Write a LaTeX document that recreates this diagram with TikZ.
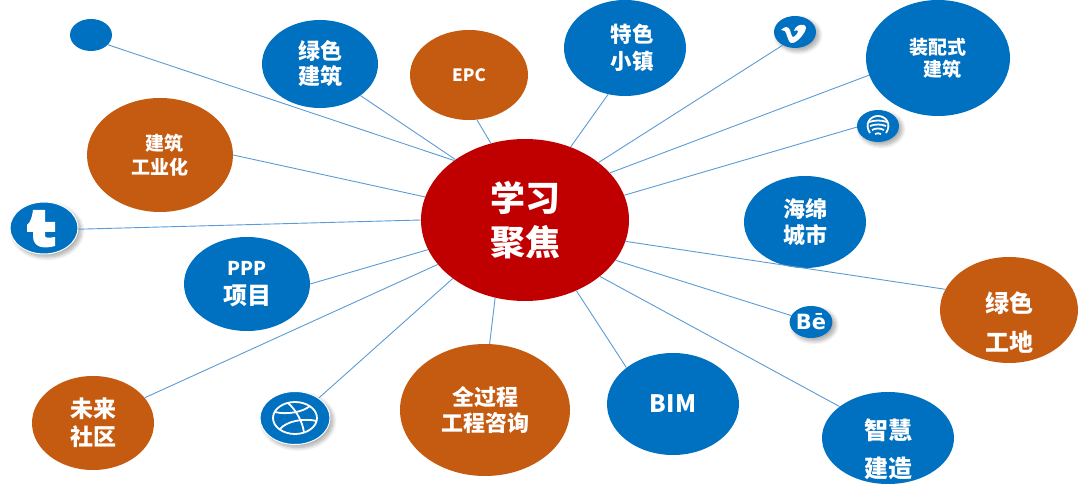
\documentclass[tikz,border=0pt]{standalone}
\usepackage{fontspec}
\setmainfont{Noto Sans CJK SC}
\newfontfamily\iconfont{DejaVu Sans}
\usetikzlibrary{shapes.geometric,shadows.blur}
\definecolor{hubred}{HTML}{C00000}
\definecolor{topicblue}{HTML}{0070C0}
\definecolor{topicorange}{HTML}{C55A11}
\definecolor{spokeblue}{HTML}{5B9BD5}
\begin{document}
\begin{tikzpicture}[x=1pt,y=-1pt,
  blob/.style={ellipse,inner sep=0pt,text=white,font=\bfseries,align=center},
  blueblob/.style={blob,fill=topicblue},
  orangeblob/.style={blob,fill=topicorange},
  icon/.style={blueblob,blur shadow={shadow blur steps=10,shadow blur radius=4pt,shadow xshift=3pt,shadow yshift=-3pt,shadow opacity=35}},
  ringicon/.style={icon,draw=white,line width=1pt},
  spoke/.style={draw=spokeblue,line width=0.9pt},
  glyph/.style={white,line width=1.8pt},
  tag/.style={text=white,font=\bfseries,align=center,inner sep=0pt}]

  \useasboundingbox (0,0) rectangle (1080,486);

  % Hub

  \node [blob,fill=hubred,minimum width=208pt,minimum height=162pt,font=\bfseries\fontsize{35}{44}\selectfont] (HUB) at (525,220) {学习\\聚焦};

  % Blue topics

  \node [blueblob,minimum width=116pt,minimum height=88pt,font=\bfseries\fontsize{22}{25}\selectfont] (GB) at (320,64) {绿色\\建筑};
  \node [blueblob,minimum width=122pt,minimum height=96pt] (TOWN) at (625,48) {};
  \node [tag,font=\bfseries\fontsize{21.5}{27}\selectfont] (TOWNtext) at (632,48) {特色\\小镇};
  \node [blueblob,minimum width=144pt,minimum height=116pt,font=\bfseries\fontsize{19}{22}\selectfont] (PREFAB) at (938,58) {装配式\\\ \ 建筑};
  \node [blueblob,minimum width=122pt,minimum height=92pt,font=\bfseries\fontsize{22}{26}\selectfont] (SPONGE) at (805,222) {海绵\\城市};
  \node [blueblob,minimum width=126pt,minimum height=94pt,font=\bfseries\fontsize{24}{29}\selectfont] (PPP) at (247,284) {{\fontsize{19}{29}\selectfont PPP}\\项目};
  \node [blueblob,minimum width=132pt,minimum height=102pt,font=\bfseries\fontsize{24}{28}\selectfont] (BIM) at (673,404) {BIM};
  \node [blueblob,minimum width=132pt,minimum height=92pt] (SMART) at (888,438) {};
  \node [tag,font=\bfseries\fontsize{24}{38}\selectfont] (SMARTtext) at (888,449) {智慧\\建造};

  % Orange topics

  \node [orangeblob,minimum width=118pt,minimum height=90pt,font=\bfseries\fontsize{17}{20}\selectfont] (EPC) at (469,75) {EPC};
  \node [orangeblob,minimum width=146pt,minimum height=114pt,font=\bfseries\fontsize{19}{24}\selectfont] (IND) at (160,155) {\ \ 建筑\\工业化};
  \node [orangeblob,minimum width=138pt,minimum height=106pt] (SITE) at (1009,310) {};
  \node [tag,font=\bfseries\fontsize{24}{39}\selectfont] (SITEtext) at (1009,323) {绿色\\工地};
  \node [orangeblob,minimum width=122pt,minimum height=94pt,font=\bfseries\fontsize{23}{28}\selectfont] (FUTURE) at (93,423) {未来\\社区};
  \node [orangeblob,minimum width=170pt,minimum height=132pt,font=\bfseries\fontsize{22}{26}\selectfont] (WHOLE) at (485,410) {全过程\\工程咨询};

  % Small icons

  \node [blueblob,minimum width=42pt,minimum height=32pt] (DOT) at (91,35) {};
  \node [icon,minimum width=42pt,minimum height=32pt] (VIMEO) at (795,32) {};
  \node [icon,minimum width=42pt,minimum height=32pt] (SPOT) at (878,126) {};
  \node [icon,minimum width=42pt,minimum height=32pt,font=\iconfont\bfseries\fontsize{21}{21}\selectfont] (BE) at (811,322) {Bē};
  \node [ringicon,minimum width=68pt,minimum height=52pt] (TUMBLR) at (44,228) {};
  \node [ringicon,minimum width=70pt,minimum height=53pt] (DRIB) at (295,418) {};

  % Logos drawn by hand

  \begin{scope}[shift={(VIMEO)}]
    \fill [white] (-14,-2) .. controls (-10,-6) and (-7,-6) .. (-5,-2) .. controls (-4,2) and (-3,5) .. (-2,5) .. controls (0,5) and (3,1) .. (3,-1) .. controls (3,-2) and (1,-2) .. (-1,-1) .. controls (0,-6) and (5,-8) .. (9,-7) .. controls (12,-6) and (11,-2) .. (9,1) .. controls (6,6) and (0,12) .. (-4,11) .. controls (-7,10) and (-8,2) .. (-10,-1) -- cycle;
  \end{scope}

  \begin{scope}[shift={(SPOT)}]
    \draw [glyph] (-8,7) .. controls (-14,-2) and (-8,-10) .. (0,-10) .. controls (8,-10) and (14,-2) .. (8,7);
    \draw [glyph] (-9,-4) .. controls (-3,-6) and (3,-6) .. (9,-4);
    \draw [glyph] (-8,0) .. controls (-3,-2) and (3,-2) .. (8,0);
    \draw [glyph] (-6,4) .. controls (-2,2) and (2,2) .. (6,4);
    \draw [glyph] (-3,8) .. controls (-1,7) and (1,7) .. (3,8);
  \end{scope}

  \begin{scope}[shift={(TUMBLR)}]
    \fill [white] (-11,-18) -- (1,-18) -- (1,-6) -- (11,-6) -- (11,4) -- (1,4) -- (1,8) .. controls (1,10) and (5,10) .. (11,9) -- (11,18) .. controls (0,21) and (-11,20) .. (-11,8) -- (-11,4) -- (-17,4) -- (-17,-3) .. controls (-14,-5) and (-12,-10) .. (-11,-18) -- cycle;
  \end{scope}

  \begin{scope}[shift={(DRIB)}]
    \draw [glyph] (0,0) ellipse (22pt and 16pt);
    \draw [glyph] (-20,-6) .. controls (-8,-3) and (8,-6) .. (15,-12);
    \draw [glyph] (-7,-15) .. controls (2,-7) and (8,5) .. (9,15);
    \draw [glyph] (-15,11) .. controls (-8,3) and (8,0) .. (22,3);
  \end{scope}

  % Spokes from the hub

  \path [spoke] (HUB.140) -- (DOT.-30);
  \path [spoke] (HUB.139) -- (GB.-38);
  \path [spoke] (HUB.114) -- (EPC.-80);
  \path [spoke] (HUB.58) -- (TOWN.250);
  \path [spoke] (HUB.38) -- (VIMEO.227);
  \path [spoke] (HUB.29) -- (PREFAB.194);
  \path [spoke] (HUB.14) -- (SPOT.183);
  \path [spoke] (HUB.167) -- (IND.0);
  \path [spoke] (HUB.180) -- (TUMBLR.-2);
  \path [spoke] (HUB.197) -- (PPP.0);
  \path [spoke] (HUB.207) -- (FUTURE.26);
  \path [spoke] (HUB.219) -- (DRIB.40);
  \path [spoke] (HUB.249) -- (WHOLE.86);
  \path [spoke] (HUB.306) -- (BIM.142);
  \path [spoke] (HUB.323) -- (SMART.147);
  \path [spoke] (HUB.336) -- (BE.162);
  \path [spoke] (HUB.348) -- (SITE.162);
\end{tikzpicture}
\end{document}
